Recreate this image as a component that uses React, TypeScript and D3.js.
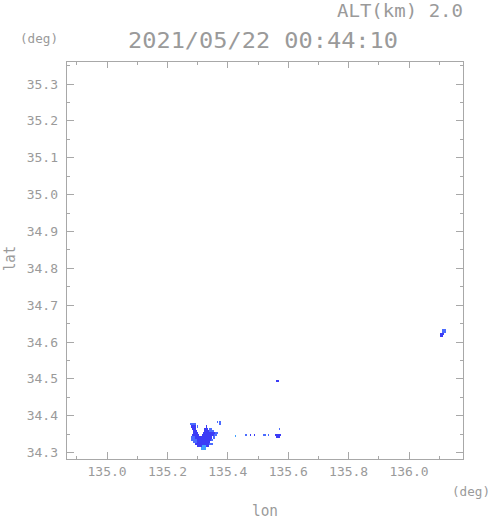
import { useMemo } from 'react';
import * as d3 from 'd3';

// radar CAPPI, 60 km around the site
const lonRange = [134.8663, 136.1797];
const latRange = [34.2826, 35.3626];

const lonMajor = [135.0, 135.2, 135.4, 135.6, 135.8, 136.0];
const lonMinor = [134.9, 135.1, 135.3, 135.5, 135.7, 135.9, 136.1];
const latMajor = [34.3, 34.4, 34.5, 34.6, 34.7, 34.8, 34.9, 35.0, 35.1, 35.2, 35.3];
const latMinor = [34.35, 34.45, 34.55, 34.65, 34.75, 34.85, 34.95, 35.05, 35.15, 35.25, 35.35];

const titleText = '2021/05/22 00:44:10';
const altText = 'ALT(km) 2.0';

// echo runs: [lat (row centre), lon start, lon end, level]
const mainEcho: [number, number, number, number][] = [
  [34.382, 135.363, 135.369, 2], [34.382, 135.371, 135.378, 2],
  [34.377, 135.276, 135.293, 2], [34.377, 135.372, 135.377, 2],
  [34.371, 135.278, 135.296, 3], [34.371, 135.299, 135.302, 2], [34.371, 135.326, 135.332, 3],
  [34.365, 135.281, 135.296, 3], [34.365, 135.322, 135.335, 3], [34.365, 135.338, 135.346, 2],
  [34.359, 135.283, 135.298, 3], [34.359, 135.320, 135.338, 3], [34.359, 135.338, 135.355, 2],
  [34.353, 135.284, 135.301, 3], [34.353, 135.317, 135.358, 3], [34.353, 135.359, 135.366, 2],
  [34.347, 135.282, 135.305, 3], [34.347, 135.313, 135.355, 3], [34.347, 135.355, 135.364, 2],
  [34.341, 135.278, 135.290, 2], [34.341, 135.290, 135.349, 3], [34.341, 135.350, 135.357, 2],
  [34.335, 135.279, 135.297, 2], [34.335, 135.297, 135.343, 3], [34.335, 135.343, 135.351, 2],
  [34.329, 135.283, 135.299, 2], [34.329, 135.299, 135.340, 3],
  [34.323, 135.292, 135.339, 3], [34.323, 135.339, 135.352, 2],
  [34.317, 135.299, 135.313, 3], [34.317, 135.313, 135.327, 1], [34.317, 135.327, 135.336, 3],
  [34.311, 135.311, 135.326, 1],
];

const lineEcho: [number, number, number, number][] = [
  [34.346, 135.423, 135.428, 1],
  [34.347, 135.457, 135.463, 2],
  [34.347, 135.474, 135.477, 3],
  [34.347, 135.487, 135.490, 3],
  [34.348, 135.518, 135.526, 2],
  [34.348, 135.533, 135.537, 2],
  [34.347, 135.555, 135.576, 3],
  [34.342, 135.560, 135.574, 3],
  [34.364, 135.568, 135.572, 2],
  [34.494, 135.560, 135.568, 3],
];

const eastEcho: [number, number, number, number][] = [
  [34.632, 136.110, 136.122, 2],
  [34.627, 136.108, 136.121, 2],
  [34.621, 136.103, 136.116, 3],
  [34.616, 136.103, 136.113, 3],
];

const levelColors = ['#ffffff', '#3fa0ff', '#4b6cff', '#3c3cf6'];

const W = 491;
const H = 521;
const frame = { left: 66.7, right: 463.3, top: 61, bottom: 459 };
const cellLat = 0.006;
const textColor = '#9a9a9a';
const axisColor = '#a8a8a8';
const font = '"DejaVu Sans Mono", monospace';

export default function App() {
  const x = useMemo(() => d3.scaleLinear().domain(lonRange).range([frame.left, frame.right]), []);
  const y = useMemo(() => d3.scaleLinear().domain(latRange).range([frame.bottom, frame.top]), []);
  const fmt = d3.format('.1f');

  const echoes = [...mainEcho, ...lineEcho, ...eastEcho];

  const majorLen = 7;
  const minorLen = 3.5;

  return (
    <svg width={W} height={H} style={{ position: 'absolute', left: 0, top: 0, background: '#fff' }}>
      {/* echoes */}
      <g shapeRendering="crispEdges">
        {echoes.map(([lat, l0, l1, lev], i) => (
          <rect
            key={i}
            x={x(l0)}
            y={y(lat + cellLat / 2)}
            width={Math.max(1, x(l1) - x(l0))}
            height={y(lat - cellLat / 2) - y(lat + cellLat / 2)}
            fill={levelColors[lev]}
          />
        ))}
      </g>

      {/* frame + ticks */}
      <g stroke={axisColor} strokeWidth={1} fill="none" shapeRendering="crispEdges">
        <rect x={frame.left} y={frame.top} width={frame.right - frame.left} height={frame.bottom - frame.top} />
        {lonMajor.map((v) => (
          <g key={'xM' + v}>
            <line x1={x(v)} x2={x(v)} y1={frame.bottom} y2={frame.bottom - majorLen} />
            <line x1={x(v)} x2={x(v)} y1={frame.top} y2={frame.top + majorLen} />
          </g>
        ))}
        {lonMinor.map((v) => (
          <g key={'xm' + v}>
            <line x1={x(v)} x2={x(v)} y1={frame.bottom} y2={frame.bottom - minorLen} />
            <line x1={x(v)} x2={x(v)} y1={frame.top} y2={frame.top + minorLen} />
          </g>
        ))}
        {latMajor.map((v) => (
          <g key={'yM' + v}>
            <line x1={frame.left} x2={frame.left + majorLen} y1={y(v)} y2={y(v)} />
            <line x1={frame.right} x2={frame.right - majorLen} y1={y(v)} y2={y(v)} />
          </g>
        ))}
        {latMinor.map((v) => (
          <g key={'ym' + v}>
            <line x1={frame.left} x2={frame.left + minorLen} y1={y(v)} y2={y(v)} />
            <line x1={frame.right} x2={frame.right - minorLen} y1={y(v)} y2={y(v)} />
          </g>
        ))}
      </g>

      {/* tick labels */}
      <g fill={textColor} fontFamily={font} fontSize={13}>
        {latMajor.map((v) => (
          <text key={'yl' + v} x={58} y={y(v) + 4.5} textAnchor="end">
            {fmt(v)}
          </text>
        ))}
        {lonMajor.map((v) => (
          <text key={'xl' + v} x={x(v)} y={476} textAnchor="middle">
            {fmt(v)}
          </text>
        ))}
      </g>

      {/* titles */}
      <g fill={textColor} fontFamily={font}>
        <text x={337} y={17} fontSize={18} textLength={126} lengthAdjust="spacingAndGlyphs">{altText}</text>
        <text x={128} y={48} fontSize={22} textLength={270} lengthAdjust="spacingAndGlyphs">{titleText}</text>
        <text x={20} y={43} fontSize={12.5} textLength={38} lengthAdjust="spacingAndGlyphs">(deg)</text>
        <text x={452} y={496} fontSize={12.5} textLength={38} lengthAdjust="spacingAndGlyphs">(deg)</text>
        <text x={252} y={516} fontSize={16} textLength={26} lengthAdjust="spacingAndGlyphs">lon</text>
        <text
          transform="translate(15,271) rotate(-90)"
          fontSize={16}
          textLength={25}
          lengthAdjust="spacingAndGlyphs"
        >
          lat
        </text>
      </g>
    </svg>
  );
}
